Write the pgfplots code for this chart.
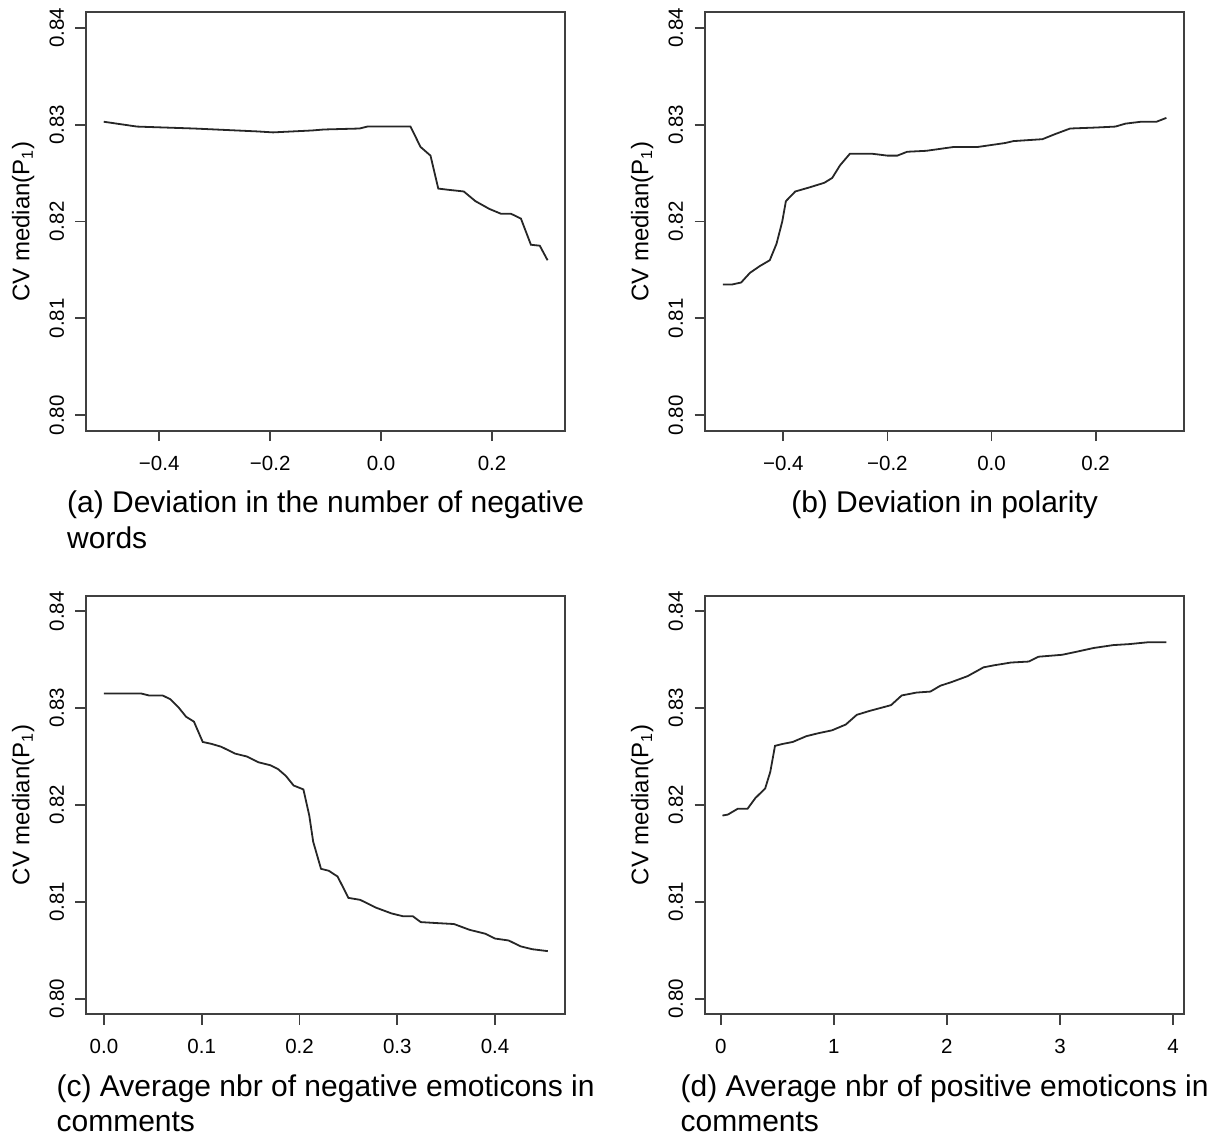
\documentclass[border=0pt]{standalone}
\usepackage{fontspec}
\setmainfont{Liberation Sans}
\usepackage{pgfplots}
\pgfplotsset{compat=1.18}

% curves
\newcommand{\dataA}{
(-0.500,0.8303) (-0.440,0.8298) (-0.337,0.8296) (-0.223,0.8293) (-0.195,0.8292)
(-0.124,0.8294) (-0.103,0.8295) (-0.039,0.8296) (-0.025,0.8298) (0.053,0.8298)
(0.071,0.8277) (0.089,0.8268) (0.103,0.8234) (0.117,0.8233) (0.149,0.8231)
(0.170,0.8221) (0.195,0.8213) (0.216,0.8208) (0.234,0.8208) (0.252,0.8203)
(0.270,0.8176) (0.286,0.8175) (0.300,0.8160)}
\newcommand{\dataB}{
(-0.516,0.8135) (-0.498,0.8135) (-0.481,0.8137) (-0.464,0.8147) (-0.445,0.8154)
(-0.426,0.8160) (-0.413,0.8177) (-0.402,0.8200) (-0.395,0.8221) (-0.377,0.8231)
(-0.351,0.8235) (-0.321,0.8240) (-0.306,0.8245) (-0.291,0.8258) (-0.272,0.8270)
(-0.230,0.8270) (-0.200,0.8268) (-0.181,0.8268) (-0.162,0.8272) (-0.125,0.8273)
(-0.072,0.8277) (-0.026,0.8277) (0.026,0.8281) (0.042,0.8283) (0.098,0.8285)
(0.121,0.8290) (0.151,0.8296) (0.200,0.8297) (0.238,0.8298) (0.257,0.8301)
(0.287,0.8303) (0.317,0.8303) (0.336,0.8307)}
\newcommand{\dataC}{
(0.000,0.8315) (0.038,0.8315) (0.046,0.8313) (0.060,0.8313) (0.068,0.8309)
(0.076,0.8301) (0.084,0.8291) (0.092,0.8286) (0.101,0.8265) (0.110,0.8263)
(0.120,0.8260) (0.134,0.8253) (0.146,0.8250) (0.158,0.8244) (0.170,0.8241)
(0.178,0.8237) (0.186,0.8230) (0.194,0.8220) (0.204,0.8216) (0.210,0.8189)
(0.214,0.8162) (0.222,0.8134) (0.230,0.8132) (0.239,0.8126) (0.250,0.8104)
(0.262,0.8102) (0.278,0.8094) (0.294,0.8088) (0.306,0.8085) (0.316,0.8085)
(0.324,0.8079) (0.340,0.8078) (0.358,0.8077) (0.374,0.8071) (0.390,0.8067)
(0.400,0.8062) (0.414,0.8060) (0.426,0.8054) (0.438,0.8051) (0.454,0.8049)}
\newcommand{\dataD}{
(0.015,0.8189) (0.063,0.8190) (0.150,0.8196) (0.237,0.8196) (0.306,0.8207)
(0.393,0.8217) (0.438,0.8234) (0.480,0.8261) (0.550,0.8263) (0.637,0.8265)
(0.758,0.8271) (0.863,0.8274) (0.984,0.8277) (1.106,0.8283) (1.203,0.8293)
(1.315,0.8297) (1.506,0.8303) (1.600,0.8313) (1.732,0.8316) (1.854,0.8317)
(1.941,0.8323) (2.045,0.8327) (2.184,0.8333) (2.323,0.8342) (2.410,0.8344)
(2.567,0.8347) (2.723,0.8348) (2.810,0.8353) (3.019,0.8355) (3.141,0.8358)
(3.297,0.8362) (3.471,0.8365) (3.610,0.8366) (3.784,0.8368) (3.940,0.8368)}

\pgfplotsset{
  panel/.style={
    scale only axis, width=239.65pt, height=209.2pt, anchor=north west,
    axis line style={black!75, line width=0.9pt},
    tick style={black!75, line width=0.9pt},
    major tick length=5.25pt, tick align=outside, tick pos=left,
    ymin=0.7984, ymax=0.8416,
    ytick={0.80,0.81,0.82,0.83,0.84},
    yticklabels={0.80,0.81,0.82,0.83,0.84},
    tick label style={font=\fontsize{10.25}{12}\selectfont, inner sep=0pt},
    xticklabel style={anchor=north, yshift=-7.3pt},
    yticklabel style={xshift=-5.5pt, rotate=90, anchor=south},
    ylabel={CV median(P\textsubscript{1})},
    ylabel style={at={([xshift=-28.3pt]axis description cs:0,0.5)}, anchor=base,
      inner sep=0pt, font=\fontsize{12}{14}\selectfont},
    xlabel style={at={([yshift=-30pt]axis description cs:0.5,0)}, anchor=north,
      inner sep=0pt, align=left, font=\fontsize{15}{17.75}\selectfont},
  },
  curve/.style={black!85, line width=0.9pt, mark=none},
}

\begin{document}
\begin{tikzpicture}
\path[use as bounding box] (0pt,0pt) rectangle (613pt,-569pt);

\begin{axis}[panel, at={(43pt,-6.15pt)},
  xmin=-0.532, xmax=0.332,
  xtick={-0.4,-0.2,0,0.2}, xticklabels={−0.4,−0.2,0.0,0.2},
  xlabel={(a) Deviation in the number of negative\\words}]
\addplot[curve] coordinates {\dataA};
\end{axis}

\begin{axis}[panel, at={(352.5pt,-6.15pt)},
  xmin=-0.5504, xmax=0.3704,
  xtick={-0.4,-0.2,0,0.2}, xticklabels={−0.4,−0.2,0.0,0.2},
  xlabel={(b) Deviation in polarity}]
\addplot[curve] coordinates {\dataB};
\end{axis}

\begin{axis}[panel, at={(43pt,-297.85pt)},
  xmin=-0.0184, xmax=0.4719,
  xtick={0,0.1,0.2,0.3,0.4}, xticklabels={0.0,0.1,0.2,0.3,0.4},
  xlabel={(c) Average nbr of negative emoticons in\\comments}]
\addplot[curve] coordinates {\dataC};
\end{axis}

\begin{axis}[panel, at={(352.5pt,-297.85pt)},
  xmin=-0.139, xmax=4.099,
  xtick={0,1,2,3,4}, xticklabels={0,1,2,3,4},
  xlabel={(d) Average nbr of positive emoticons in\\comments}]
\addplot[curve] coordinates {\dataD};
\end{axis}
\end{tikzpicture}
\end{document}
